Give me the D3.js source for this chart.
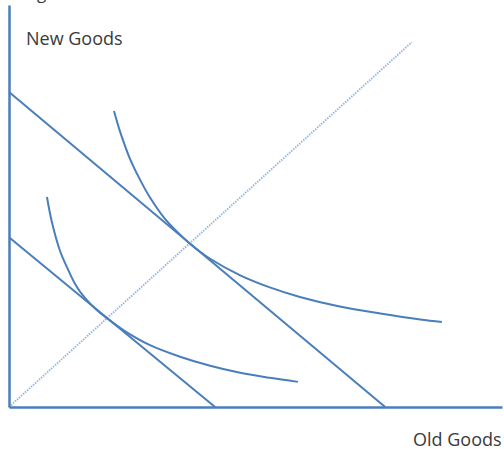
<!DOCTYPE html>
<html>
<head>
<meta charset="utf-8">
<script src="https://cdn.jsdelivr.net/npm/d3@7"></script>
<style>
  html, body { margin: 0; padding: 0; background: #fff; }
  svg { display: block; }
  text { font-family: "Open Sans", sans-serif; fill: #3a3a3a; }
</style>
</head>
<body>
<svg id="chart" width="504" height="449"></svg>
<script>
// ---- data (arbitrary units) ----
const axisLabels = { x: "Old Goods", y: "New Goods" };
const budgetHigh = [[0, 62.7], [76.3, 0]];
const budgetLow = [[0, 33.8], [41.8, 0]];
const expansionPath = [[0, 0], [81.7, 72.6]];
const indifferenceHigh = [
  [21.3, 58.9], [22.5, 54.9], [24.5, 49.5], [26.6, 45.2], [28.6, 41.7],
  [31.6, 37.5], [34.7, 34.3], [36.7, 32.5], [40.8, 29.5], [46.9, 26.2],
  [52.9, 23.8], [59.0, 21.9], [67.1, 20.0], [75.3, 18.6], [83.4, 17.4],
  [87.8, 16.9]
];
const indifferenceLow = [
  [7.7, 41.8], [8.7, 36.8], [10.3, 31.2], [12.0, 27.3], [13.4, 24.5],
  [15.4, 21.7], [17.8, 19.3], [20.1, 17.5], [23.5, 15.1], [28.6, 12.3],
  [34.7, 10.0], [40.8, 8.2], [46.9, 6.8], [52.9, 5.8], [58.6, 5.0]
];

const svg = d3.select("#chart");
const x = d3.scaleLinear().domain([0, 100]).range([9, 502]);
const y = d3.scaleLinear().domain([0, 80]).range([407, 5]);

const blue = "#4a7ebb";

// partially visible caption above
svg.append("text").attr("x", 37).attr("y", -1).attr("font-size", 17).text("g");

// expansion path (dotted)
svg.append("path")
  .datum(expansionPath)
  .attr("d", d3.line().x(d => x(d[0])).y(d => y(d[1])))
  .attr("fill", "none")
  .attr("stroke", "#9bb8e0")
  .attr("stroke-width", 2)
  .attr("stroke-dasharray", "1.5,1.2");

const line = d3.line().x(d => x(d[0])).y(d => y(d[1]));
const curve = d3.line().x(d => x(d[0])).y(d => y(d[1])).curve(d3.curveCatmullRom);

[budgetHigh, budgetLow].forEach(b => {
  svg.append("path").datum(b).attr("d", line)
    .attr("fill", "none").attr("stroke", blue).attr("stroke-width", 2);
});
[indifferenceHigh, indifferenceLow].forEach(c => {
  svg.append("path").datum(c).attr("d", curve)
    .attr("fill", "none").attr("stroke", blue).attr("stroke-width", 2);
});

// axes
const xAxis = svg.append("g").attr("transform", `translate(0,${y(0)})`)
  .call(d3.axisBottom(x).ticks(0).tickSize(0).tickSizeOuter(0));
const yAxis = svg.append("g").attr("transform", `translate(${x(0)},0)`)
  .call(d3.axisLeft(y).ticks(0).tickSize(0).tickSizeOuter(0));
[xAxis, yAxis].forEach(a => {
  a.select(".domain").attr("stroke", blue).attr("stroke-width", 2.5);
  a.selectAll("text").remove();
});

svg.append("text").attr("x", 26).attr("y", 45).attr("font-size", 18).text(axisLabels.y);
svg.append("text").attr("x", 413).attr("y", 446).attr("font-size", 18).text(axisLabels.x);
</script>
</body>
</html>
